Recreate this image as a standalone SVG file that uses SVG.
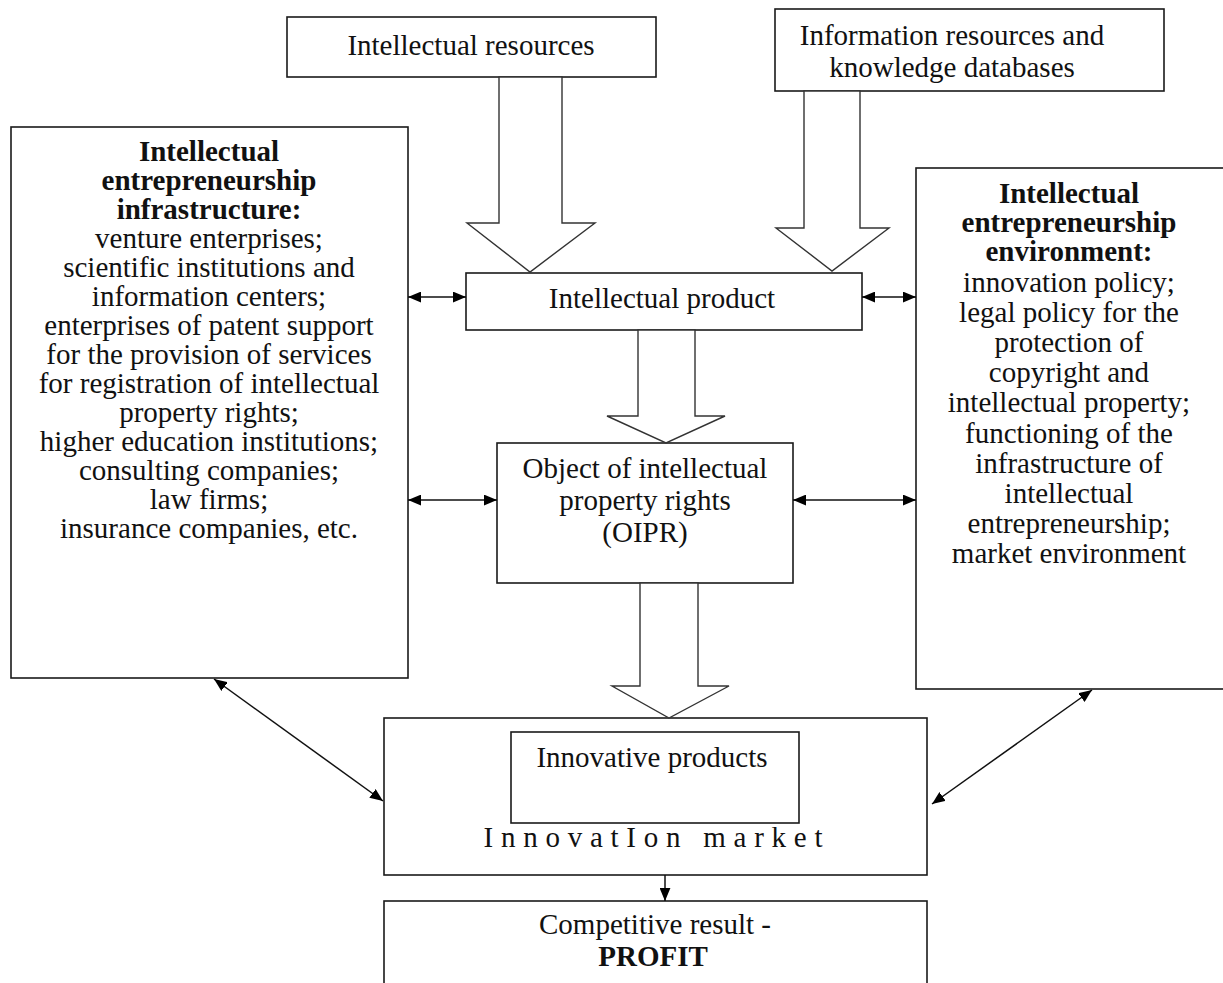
<svg xmlns="http://www.w3.org/2000/svg" width="1223" height="983" viewBox="0 0 1223 983">
<style>
.box{fill:#fff;stroke:#1a1a1a;stroke-width:1.6}
.big{fill:#fff;stroke:#333;stroke-width:1.4;stroke-linejoin:miter}
.t{font-family:"Liberation Serif","Times New Roman",serif;font-size:29px;fill:#111;text-anchor:middle}
.b{font-weight:bold}
.con{stroke:#111;stroke-width:1.5;fill:none}
</style>
<defs>
<marker id="ah" viewBox="0 0 12 10" refX="12" refY="5" markerWidth="13" markerHeight="11" markerUnits="userSpaceOnUse" orient="auto-start-reverse">
<path d="M0,0 L12,5 L0,10 z" fill="#000"/>
</marker>
</defs>
<rect width="1223" height="983" fill="#fff"/>

<g id="intellectual-resources">
<rect class="box" x="287" y="17" width="369" height="60"/>
<text class="t" x="471" y="55">Intellectual resources</text>
</g>

<g id="information-resources">
<rect class="box" x="775" y="9" width="389" height="82"/>
<text class="t" x="952" y="45">Information resources  and</text>
<text class="t" x="952" y="77">knowledge databases</text>
</g>

<g id="infrastructure">
<rect class="box" x="11" y="127" width="397" height="551"/>
<text class="t b" x="209" y="161">Intellectual</text>
<text class="t b" x="209" y="190">entrepreneurship</text>
<text class="t b" x="209" y="219">infrastructure:</text>
<text class="t" x="209" y="248">venture enterprises;</text>
<text class="t" x="209" y="277">scientific institutions and</text>
<text class="t" x="209" y="306">information centers;</text>
<text class="t" x="209" y="335">enterprises of patent support</text>
<text class="t" x="209" y="364">for the provision of services</text>
<text class="t" x="209" y="393">for registration of intellectual</text>
<text class="t" x="209" y="422">property rights;</text>
<text class="t" x="209" y="451">higher education institutions;</text>
<text class="t" x="209" y="480">consulting companies;</text>
<text class="t" x="209" y="509">law firms;</text>
<text class="t" x="209" y="538">insurance companies, etc.</text>
</g>

<g id="environment">
<rect class="box" x="916" y="168" width="310" height="521"/>
<text class="t b" x="1069" y="203">Intellectual</text>
<text class="t b" x="1069" y="232">entrepreneurship</text>
<text class="t b" x="1069" y="261">environment:</text>
<text class="t" x="1069" y="292">innovation policy;</text>
<text class="t" x="1069" y="322">legal policy for the</text>
<text class="t" x="1069" y="352">protection of</text>
<text class="t" x="1069" y="382">copyright and</text>
<text class="t" x="1069" y="412">intellectual property;</text>
<text class="t" x="1069" y="443">functioning of the</text>
<text class="t" x="1069" y="473">infrastructure of</text>
<text class="t" x="1069" y="503">intellectual</text>
<text class="t" x="1069" y="533">entrepreneurship;</text>
<text class="t" x="1069" y="563">market environment</text>
</g>

<g id="intellectual-product">
<rect class="box" x="466" y="273" width="396" height="57"/>
<text class="t" x="662" y="308">Intellectual product</text>
</g>

<g id="oipr">
<rect class="box" x="497" y="443" width="296" height="140"/>
<text class="t" x="645" y="478">Object of intellectual</text>
<text class="t" x="645" y="510">property rights</text>
<text class="t" x="645" y="542">(OIPR)</text>
</g>

<g id="innovation-market">
<rect class="box" x="384" y="718" width="543" height="157"/>
<rect class="box" x="511" y="732" width="288" height="91"/>
<text class="t" x="652" y="767">Innovative products</text>
<text class="t" x="653" y="847" textLength="339" lengthAdjust="spacing">InnovatIon market</text>
</g>

<g id="profit">
<rect class="box" x="384" y="901" width="543" height="100"/>
<text class="t" x="655" y="934">Competitive result -</text>
<text class="t b" x="653" y="966">PROFIT</text>
</g>

<g id="connectors">
<polygon class="big" points="499,77 499,223 467,223 530,272 595,223 562,223 562,77"/>
<polygon class="big" points="804,91 804,228 776,228 832,271 889,228 860,228 860,91"/>
<polygon class="big" points="638,330 638,416 607,416 666,443 725,416 695,416 695,330"/>
<polygon class="big" points="640,583 640,686 612,686 669,718 729,686 698,686 698,583"/>
<line class="con" x1="408" y1="297" x2="466" y2="297" marker-start="url(#ah)" marker-end="url(#ah)"/>
<line class="con" x1="862" y1="297" x2="916" y2="297" marker-start="url(#ah)" marker-end="url(#ah)"/>
<line class="con" x1="408" y1="500" x2="497" y2="500" marker-start="url(#ah)" marker-end="url(#ah)"/>
<line class="con" x1="793" y1="500" x2="916" y2="500" marker-start="url(#ah)" marker-end="url(#ah)"/>
<line class="con" x1="214" y1="679" x2="383" y2="801" marker-start="url(#ah)" marker-end="url(#ah)"/>
<line class="con" x1="1092" y1="690" x2="932" y2="804" marker-start="url(#ah)" marker-end="url(#ah)"/>
<line class="con" x1="665" y1="875" x2="665" y2="901" marker-end="url(#ah)"/>
</g>
</svg>
